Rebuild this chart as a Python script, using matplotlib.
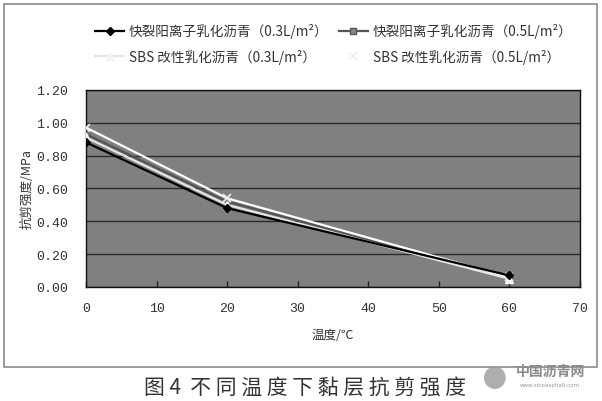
import matplotlib.pyplot as plt
from matplotlib.patches import Rectangle, Ellipse

# data
temps = [0, 20, 60]
fast_03 = [0.88, 0.48, 0.07]
fast_05 = [0.93, 0.52, 0.06]
sbs_03 = [0.91, 0.50, 0.05]
sbs_05 = [0.97, 0.54, 0.06]

labels = [
    "快裂阳离子乳化沥青（0.3L/m²）",
    "快裂阳离子乳化沥青（0.5L/m²）",
    "SBS 改性乳化沥青（0.3L/m²）",
    "SBS 改性乳化沥青（0.5L/m²）",
]
xticks = [0, 10, 20, 30, 40, 50, 60, 70]
yticks = [0.0, 0.2, 0.4, 0.6, 0.8, 1.0, 1.2]

cjk = ["Noto Sans CJK SC", "DejaVu Sans"]
num = ["Liberation Mono", "Noto Sans CJK SC"]
plt.rcParams["font.family"] = cjk

fig = plt.figure(figsize=(6.02, 4.02), dpi=100)
fig.patch.set_facecolor("white")

# outer frame round chart
fig.patches.append(Rectangle((0.0066, 0.0846), 0.985, 0.903, transform=fig.transFigure,
                             fill=False, edgecolor="#8a8a8a", lw=1.2))

ax = fig.add_axes([0.143, 0.2836, 0.820, 0.4904])
ax.set_facecolor("#808080")

h1, = ax.plot(temps, fast_03, color="black", lw=1.6, marker="D", ms=4, mfc="black", mec="black",
              label=labels[0], zorder=4)
h2, = ax.plot(temps, fast_05, color="#555555", lw=1.6, marker="s", ms=4, mfc="#888888", mec="#555555",
              label=labels[1], zorder=3)
h3, = ax.plot(temps, sbs_03, color="#e6e6e6", lw=1.6, marker="^", ms=6, mfc="#f4f4f4", mec="#f4f4f4",
              label=labels[2], zorder=3)
h4, = ax.plot(temps, sbs_05, color="white", lw=1.6, marker="x", ms=6, mec="#f0f0f0", mew=1.2,
              label=labels[3], zorder=3)

ax.set_xlim(0, 70)
ax.set_ylim(0, 1.2)
ax.set_xticks(xticks)
ax.set_yticks(yticks)
ax.set_xticklabels([str(t) for t in xticks], family=num, fontsize=9.5, color="#333333")
ax.set_yticklabels([f"{v:.2f}" for v in yticks], family=num, fontsize=9.5, color="#333333")
ax.tick_params(axis="x", direction="in", length=4, width=1, color="#222222", pad=11)
ax.tick_params(axis="y", length=0, pad=13)
ax.yaxis.grid(True, color="#2a2a2a", lw=1)
ax.set_axisbelow(True)
for s in ax.spines.values():
    s.set_color("#111111")
    s.set_linewidth(1)

ax.set_xlabel("温度/℃", fontsize=9, color="#333333", labelpad=10)
ax.set_ylabel("抗剪强度/MPa", fontsize=9, color="#333333", labelpad=2)

# row-major order like the original legend
fig.legend([h1, h3, h2, h4], [labels[0], labels[2], labels[1], labels[3]],
           loc="upper left", bbox_to_anchor=(0.138, 0.97), ncol=2, frameon=False,
           fontsize=9.8, handlelength=2.1, handletextpad=0.35, columnspacing=0.8,
           labelspacing=0.75, labelcolor="#333333")

fig.text(0.506, 0.036, "图 4  不 同 温 度 下 黏 层 抗 剪 强 度", ha="center", va="center",
         fontsize=15, color="#333333")

# watermark
fig.patches.append(Ellipse((0.822, 0.058), 0.036, 0.056, transform=fig.transFigure,
                           facecolor="#9a9a9a", edgecolor="none", alpha=0.8))
fig.text(0.914, 0.075, "中国沥青网", ha="center", va="center", fontsize=10,
         color="#8a8a8a", weight="bold")
fig.text(0.914, 0.042, "www.sinoasphalt.com", ha="center", va="center", fontsize=4,
         color="#9a9a9a", family="DejaVu Sans")

fig.savefig("out.png", dpi=100)
